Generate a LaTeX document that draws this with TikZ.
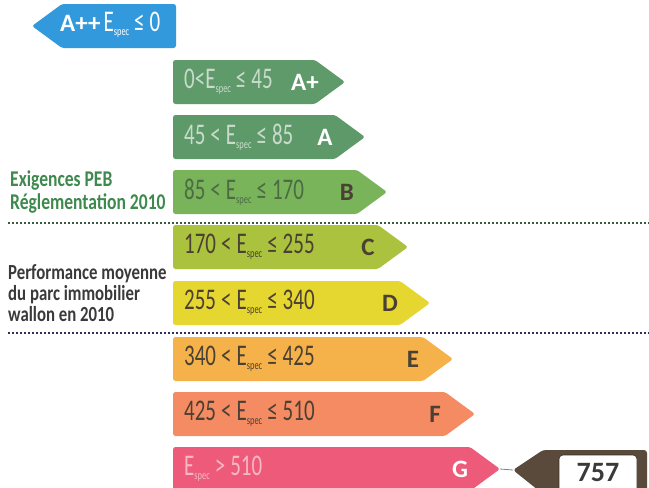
\documentclass[tikz,border=0pt]{standalone}
\usepackage{fontspec}
\newfontfamily\cond[FakeStretch=0.7]{Carlito}
\newfontfamily\condb[FakeStretch=0.78]{Carlito}
\newfontfamily\norm{Carlito}
\newcommand\Esp{E\raisebox{-0.12em}{\fontsize{12}{12}\selectfont spec}}
\definecolor{cAPP}{HTML}{3399DD}
\definecolor{cAP}{HTML}{5F9A6A}
\definecolor{cA}{HTML}{5E9A69}
\definecolor{cB}{HTML}{79B45A}
\definecolor{cC}{HTML}{ABC23E}
\definecolor{cD}{HTML}{E6D630}
\definecolor{cE}{HTML}{F6B24A}
\definecolor{cF}{HTML}{F58B62}
\definecolor{cG}{HTML}{EE5A7A}
\definecolor{cBrown}{HTML}{5A4A3C}
\definecolor{tGreenLight}{HTML}{C9DCCB}
\definecolor{tB}{HTML}{4C6A44}
\definecolor{tDark}{HTML}{4A4034}
\definecolor{tPink}{HTML}{F7B7C4}
\definecolor{lGreen}{HTML}{3E8A4E}
\definecolor{lDark}{HTML}{3A3A3A}
\tikzset{
  rangetxt/.style={inner sep=0pt, anchor=west, font=\cond\fontsize{30}{30}\selectfont},
  lettertxt/.style={inner sep=0pt, font=\norm\bfseries\fontsize{25}{25}\selectfont},
  sidetxt/.style={inner sep=0pt, anchor=west, align=left, font=\condb\bfseries\fontsize{22.5}{22.5}\selectfont},
  sep/.style={line width=1.6pt, dash pattern=on 2pt off 2pt},
}
\newcommand\ebar[8]{%
  \path[fill=#4, rounded corners=2.5] (173,#2) -- ({#3-30},#2) -- (#3,{#2+22}) -- ({#3-30},{#2+44}) -- (173,{#2+44}) -- cycle;
  \coordinate (#1tip) at (#3,{#2+22});
  \node[rangetxt, text=#7] (#1r) at (184,{#2+22}) {#5};
  \node[lettertxt, text=#8] (#1l) at ({#3-40},{#2+22}) {#6};
}
\begin{document}
\begin{tikzpicture}[x=1pt,y=-1pt]
\useasboundingbox[fill=white] (0,0) rectangle (649,488);
\begin{scope}
\clip (0,0) rectangle (649,488);
% A++
\path[fill=cAPP, rounded corners=2.5] (176,4) -- (62,4) -- (32,26) -- (62,48) -- (176,48) -- cycle;
\node[inner sep=0pt, anchor=west, text=white] (app) at (60,25) {{\norm\bfseries\fontsize{25}{25}\selectfont A++}\hspace{3pt}{\cond\fontsize{30}{30}\selectfont\Esp\,≤\,0}};
% bars
\ebar{ap}{60}{345}{cAP}{0<\Esp\,≤\,45}{A+}{tGreenLight}{white}
\ebar{a}{115}{365}{cA}{45\,<\,\Esp\,≤\,85}{A}{tGreenLight}{white}
\ebar{b}{170}{387}{cB}{85\,<\,\Esp\,≤\,170}{B}{tB}{tDark}
\ebar{c}{225}{408}{cC}{170\,<\,\Esp\,≤\,255}{C}{tDark}{tDark}
\ebar{d}{281}{430}{cD}{255\,<\,\Esp\,≤\,340}{D}{tDark}{tDark}
\ebar{e}{337}{453}{cE}{340\,<\,\Esp\,≤\,425}{E}{tDark}{tDark}
\ebar{f}{392}{475}{cF}{425\,<\,\Esp\,≤\,510}{F}{tDark}{tDark}
\ebar{g}{447}{500}{cG}{\Esp\,>\,510}{G}{tPink}{white}
% value box
\path[fill=cBrown, rounded corners=3] (513,470) -- (543,450) -- (647,450) -- (647,494) -- (543,494) -- cycle;
\coordinate (vtip) at (513,470);
\path[fill=white, draw=cBrown!60!black, line width=0.6, rounded corners=4] (559,455) rectangle (637,494);
\node[inner sep=0pt, text=lDark, font=\norm\bfseries\fontsize{28}{28}\selectfont] (val) at (598,473) {757};
\draw[gray, line width=0.8] (gtip) -- (vtip);
% separators
\coordinate (s1a) at (8,223); \coordinate (s1b) at (649,223);
\coordinate (s2a) at (8,333); \coordinate (s2b) at (649,333);
\draw[sep, lGreen!40!lDark] (s1a) -- (s1b);
\draw[sep, lDark!80!blue] (s2a) -- (s2b);
% side labels
\node[sidetxt, text=lGreen] (exig) at (10,192) {Exigences PEB\\[0pt]Réglementation 2010};
\node[sidetxt, text=lDark, font=\condb\bfseries\fontsize{21.5}{22}\selectfont] (perf) at (8,293) {Performance moyenne\\[-1pt]du parc immobilier\\[-1pt]wallon en 2010};
\end{scope}
\end{tikzpicture}
\end{document}
